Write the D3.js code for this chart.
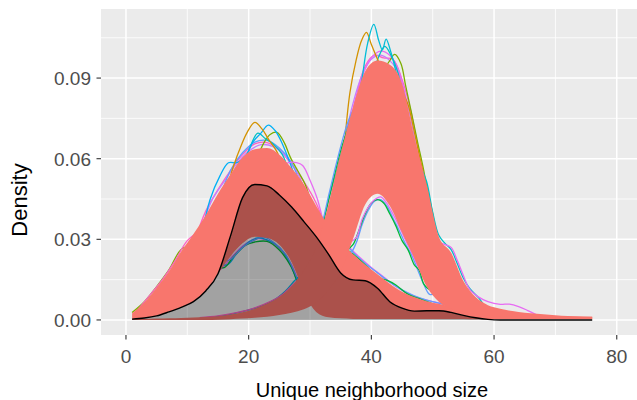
<!DOCTYPE html>
<html><head><meta charset="utf-8">
<script src="https://cdn.jsdelivr.net/npm/d3@7"></script>
<style>body{margin:0;background:#fff} svg{display:block} text{font-family:"Liberation Sans",Arial,Helvetica,sans-serif}</style>
</head><body><svg id="c" width="637" height="400"></svg>
<script>
// ---------- data ----------
const xs = [1,3,5,7,9,11,13,15,17,19,21,23,25,27,29,31,33,35,37,39,41,43,45,47,49,51,53,55,57,59,61,63,65,67,69,71,73,76];
// envelope of the simulated densities, first mode (~22)
const bandAHi = [0.0025,0.0065,0.012,0.018,0.0255,0.032,0.039,0.047,0.054,0.0605,0.0635,0.064,0.0615,0.0565,0.0505,0.0425,0.035,0.029,0.0245,0.0205,0.017,0.0135,0.0105,0.0085,0.007,0.006,0.005,0.0042,0.0036,0.003,0.0026,0.0023,0.002,0.0018,0.0016,0.0014,0.0013,0.0012];
const bandALo = [0.0003,0.0007,0.0015,0.003,0.0047,0.0068,0.0108,0.0172,0.0235,0.0285,0.031,0.0305,0.028,0.0215,0.0105,0.003,0.001,0.0006,0.0004,0.0004,0.0004,0.0004,0.0004,0.0004,0.0004,0.0004,0.0004,0.0004,0.0003,0.0003,0.0003,0.0003,0.0003,0.0003,0.0003,0.0003,0.0003,0.0003];
// envelope of the simulated densities, second mode (~41)
const bandBHi = [0.0004,0.0004,0.0005,0.0006,0.0007,0.0009,0.0011,0.0014,0.002,0.0029,0.0042,0.006,0.0085,0.0125,0.0185,0.027,0.043,0.062,0.079,0.0925,0.0965,0.095,0.088,0.068,0.0505,0.031,0.025,0.0145,0.0085,0.0055,0.0042,0.0033,0.0027,0.0023,0.0019,0.0016,0.0014,0.0012];
const bandBLo = [0,0,0,0,0,0,0,0.0001,0.0003,0.0005,0.0008,0.0012,0.0018,0.0027,0.004,0.0065,0.011,0.018,0.030,0.043,0.047,0.0425,0.0325,0.023,0.0125,0.0068,0.0042,0.003,0.0022,0.0017,0.0014,0.0012,0.001,0.0009,0.0008,0.0007,0.0006,0.0005];
// observed density (grey, black outline)
const observed = [0.0003,0.0007,0.0015,0.003,0.0047,0.0068,0.0108,0.0172,0.031,0.0455,0.0504,0.0499,0.0465,0.042,0.0366,0.031,0.0245,0.0175,0.0149,0.0146,0.0118,0.0068,0.0044,0.0033,0.0034,0.0034,0.0028,0.0017,0.0008,0.0002,0,0,0,0,0,0,0,0];

// individual replicate curves that show at the band edges ([x, density] pairs)
const aOrange = [[16,0.045],[17.5,0.057],[18.8,0.065],[19.8,0.07],[21,0.0735],[22.2,0.071],[23.3,0.067],[24.5,0.063],[26,0.055]];
const aCyan1 = [[19,0.055],[20.5,0.0655],[22,0.0695],[23.2,0.0725],[24.3,0.0705],[25.5,0.0655],[26.8,0.058],[28,0.05]];
const aCyan2 = [[18,0.052],[20,0.063],[21.5,0.0695],[22.7,0.0675],[24,0.0655],[25.5,0.0615],[26.5,0.055]];
const aGreen = [[21,0.058],[22.5,0.066],[23.5,0.069],[24.6,0.0698],[25.8,0.066],[26.8,0.0605],[28,0.0555],[29.2,0.0505],[30.5,0.041]];
const aCyanLeft = [[12.5,0.033],[13.7,0.0447],[15.3,0.0535],[16.7,0.0585],[18,0.0585],[19.2,0.0595],[20.5,0.057]];
const aMagRight = [[25,0.056],[26.5,0.0585],[27.8,0.0585],[28.8,0.0575],[30,0.052],[31.2,0.045],[32.3,0.035]];
const aPink = [[11,0.028],[13,0.0405],[15,0.0485],[17,0.0555],[19,0.0615],[21,0.0655],[23,0.066],[25,0.0632],[27,0.0578],[29,0.0515],[31,0.0435],[33,0.031]];
const aViolet = [[12,0.032],[14,0.0445],[16,0.0515],[18,0.058],[20,0.0628],[22,0.0652],[24,0.0645],[26,0.061],[28,0.0545],[30,0.043]];
const aBlueTop = [[15,0.043],[17,0.0555],[19,0.0622],[21,0.0662],[23,0.0668],[25,0.064],[27,0.0585],[29,0.046]];
const aLeftGreen = [[1,0.0028],[3,0.0068],[5,0.0124],[7,0.0186],[9,0.0262],[11,0.028]];
const aLeftPink = [[2,0.004],[4,0.0095],[6,0.0152],[8,0.022],[10,0.0295],[12,0.033]];
const aLoMag = [[14,0.0175],[15.5,0.019],[17,0.0228],[19,0.0275],[21,0.0302],[22.5,0.030],[24,0.0285],[25.5,0.0255],[27,0.0205],[28.3,0.0135],[29.5,0.009],[30.5,0.006]];
const aLoCyan = [[15,0.021],[16.5,0.0205],[18,0.0245],[20,0.029],[21.5,0.0305],[23,0.0298],[25,0.027],[26.5,0.022],[28,0.014],[29.3,0.008],[30.5,0.0065]];
const aLoGreen = [[14.5,0.02],[16,0.0195],[17.5,0.0235],[19.5,0.0278],[21,0.029],[23,0.0292],[25,0.026],[27,0.0195],[28.5,0.011],[30,0.0075]];
const aLoBlue = [[15,0.0215],[17,0.0225],[19,0.027],[21,0.0298],[22.5,0.0308],[24,0.029],[26,0.0245],[27.8,0.016],[29,0.0095],[30.5,0.0068]];
const aTailMag = [[32,0.036],[34,0.0335],[36,0.028],[38,0.0235],[40,0.0195],[42,0.016],[44,0.0125],[46,0.0098],[48,0.008],[50,0.0068],[52,0.006],[54,0.0062],[55.5,0.0058],[57,0.0045]];
const aTailBlue = [[33,0.033],[35,0.0298],[37,0.0252],[39,0.021],[41,0.0175],[43,0.014],[45,0.0112],[47,0.009],[49,0.0074],[51,0.0063],[53,0.005]];
const aTailGreen = [[35,0.028],[37,0.0245],[39,0.0205],[40.3,0.0175],[41.3,0.0155],[42.5,0.0148],[44,0.013],[46,0.0095],[48,0.0078],[50,0.006]];
const bCyan = [[37.5,0.076],[38.5,0.09],[39.4,0.103],[40.4,0.11],[41.2,0.104],[41.8,0.1005],[42.4,0.1045],[43.2,0.0995],[44,0.0925],[45,0.083]];
const bOrange = [[35.5,0.062],[36.5,0.0845],[37.5,0.0965],[38.4,0.104],[39.2,0.107],[40,0.1025],[41,0.097],[42,0.092]];
const bTeal = [[40.5,0.093],[41.3,0.0985],[42.2,0.1018],[43.2,0.0985],[44.2,0.093],[45,0.085]];
const bGreen = [[42,0.093],[43,0.0965],[43.8,0.0988],[44.8,0.0955],[45.6,0.087],[46.5,0.0775],[47.5,0.0665],[48.5,0.056],[49.5,0.043]];
const bPink = [[36,0.068],[37.5,0.083],[39,0.0945],[40.5,0.0985],[42,0.0975],[43.5,0.097],[45,0.0895],[46.5,0.077],[48,0.058]];
const bViolet = [[35,0.06],[37,0.0805],[38.5,0.0912],[40,0.097],[41.5,0.0985],[43,0.0965],[44.5,0.0915],[46,0.079],[47.5,0.062]];
const bMagTop = [[37,0.075],[38.5,0.0905],[40,0.0975],[41.5,0.1],[43,0.0985],[44.5,0.0925],[46,0.075]];
const bLeftTeal = [[29.5,0.018],[31,0.0275],[32.3,0.038],[33.4,0.0478],[34.5,0.057],[35.5,0.066],[36.5,0.074],[37.5,0.08]];
const bLeftGreen = [[27.5,0.012],[29,0.0195],[30.5,0.0255],[32,0.035],[33,0.0445],[34,0.054],[35,0.063],[36,0.07]];
const bLeftBlue = [[30,0.02],[32,0.036],[33,0.046],[34,0.0555],[35,0.0645],[36,0.0725],[37,0.078]];
const bRightOrange = [[45,0.085],[46,0.08],[47,0.07],[48,0.0595],[49,0.05],[50,0.0395],[50.8,0.029]];
const bRightTeal = [[48,0.057],[49,0.0515],[50,0.04],[51,0.0315],[52,0.0285],[53,0.0262],[54,0.021],[55,0.0155],[56,0.0118],[57.5,0.0082],[58.5,0.005]];
const bRightMag = [[51,0.029],[52,0.028],[53,0.027],[54,0.0222],[55,0.0165],[56,0.0115],[57.5,0.0085],[59,0.0068],[61,0.0058],[62.5,0.0059],[64,0.005],[65.5,0.0035],[67,0.0018]];
const bLoBlue = [[35.5,0.024],[36.5,0.0245],[37.5,0.0285],[38.5,0.0355],[39.5,0.0408],[40.5,0.0442],[41.5,0.0448],[42.5,0.0425],[43.5,0.038],[44.5,0.0335],[45.5,0.0285],[46.5,0.0245],[47.5,0.019],[48.5,0.0135],[49.5,0.0095],[50.5,0.01]];
const bLoGreen = [[36,0.026],[37,0.028],[38,0.0335],[39,0.0395],[40,0.0435],[41,0.0448],[42,0.0435],[43,0.0395],[44,0.035],[45,0.0295],[46,0.026],[47,0.0205],[47.8,0.0185],[48.5,0.0135],[49.3,0.0115],[50.3,0.011]];
const bLoMag = [[36.5,0.029],[37.5,0.0305],[38.5,0.0375],[39.5,0.042],[40.5,0.0447],[41.5,0.0458],[42.5,0.0435],[43.5,0.0395],[44.5,0.035],[45.5,0.03],[46.5,0.0255],[47.5,0.0205],[48.3,0.017],[49,0.0135],[50,0.0115]];
const bTailBlue = [[13,0.0008],[16,0.0016],[19,0.0031],[21.5,0.0047],[24,0.0072],[26,0.0108],[28,0.0158],[29.5,0.018]];
const bTailMag = [[12,0.0009],[15,0.0015],[18,0.0027],[21,0.0045],[23.5,0.0068],[25.5,0.0095],[27.5,0.0138],[29,0.017]];

const xTicks = [0,20,40,60,80];
const xTickLabels = ["0","20","40","60","80"];
const yTicks = [0,0.03,0.06,0.09];
const yTickLabels = ["0.00","0.03","0.06","0.09"];
const xMinor = [10,30,50,70];
const yMinor = [0.015,0.045,0.075,0.105];

// ---------- drawing ----------
const svg = d3.select("#c");
const P = {l:101, r:637, t:9, b:335};
const x = d3.scaleLinear().domain([-4.07, 83.3]).range([P.l, P.r]);
const y = d3.scaleLinear().domain([-0.0056, 0.1157]).range([P.b, P.t]);

svg.append("rect").attr("x",P.l).attr("y",P.t).attr("width",P.r-P.l).attr("height",P.b-P.t).attr("fill","#EBEBEB");
const grid = svg.append("g");
xMinor.forEach(v=>grid.append("line").attr("x1",x(v)).attr("x2",x(v)).attr("y1",P.t).attr("y2",P.b).attr("stroke","#fff").attr("stroke-width",0.8));
yMinor.forEach(v=>grid.append("line").attr("y1",y(v)).attr("y2",y(v)).attr("x1",P.l).attr("x2",P.r).attr("stroke","#fff").attr("stroke-width",0.8));
xTicks.forEach(v=>grid.append("line").attr("x1",x(v)).attr("x2",x(v)).attr("y1",P.t).attr("y2",P.b).attr("stroke","#fff").attr("stroke-width",1.5));
yTicks.forEach(v=>grid.append("line").attr("y1",y(v)).attr("y2",y(v)).attr("x1",P.l).attr("x2",P.r).attr("stroke","#fff").attr("stroke-width",1.5));

svg.append("clipPath").attr("id","clip").append("rect").attr("x",P.l).attr("y",P.t).attr("width",P.r-P.l).attr("height",P.b-P.t);
const plot = svg.append("g").attr("clip-path","url(#clip)");

// replicate curves first (their inner parts are covered by the filled envelopes)
const line = d3.line().x(d=>x(d[0])).y(d=>y(d[1])).curve(d3.curveCatmullRom.alpha(0.5));
const reps = [
  [aPink,"#FF61C3"],[aViolet,"#C77CFF"],[aBlueTop,"#619CFF"],[aLeftGreen,"#7CAE00"],[aLeftPink,"#FF61C3"],[aCyanLeft,"#00B0F6"],[aGreen,"#7CAE00"],[aCyan2,"#00BFC4"],[aCyan1,"#00B0F6"],[aOrange,"#D39200"],[aMagRight,"#E76BF3"],
  [aLoMag,"#E76BF3"],[aLoCyan,"#00B0F6"],[aLoGreen,"#00BA38"],[aLoBlue,"#619CFF"],
  [aTailMag,"#E76BF3"],[aTailBlue,"#619CFF"],[aTailGreen,"#00BA38"],
  [bPink,"#FF61C3"],[bViolet,"#C77CFF"],[bMagTop,"#E76BF3"],[bGreen,"#7CAE00"],[bTeal,"#00BFC4"],[bOrange,"#D39200"],[bCyan,"#00BCD8"],
  [bLeftTeal,"#00BFC4"],[bLeftGreen,"#00BA38"],[bLeftBlue,"#619CFF"],[bRightOrange,"#D39200"],[bRightTeal,"#00BFC4"],[bRightMag,"#E76BF3"],
  [bLoBlue,"#619CFF"],[bLoGreen,"#00BA38"],[bLoMag,"#E76BF3"],
  [bTailBlue,"#00B9E3"],[bTailMag,"#FF61C3"]
];
reps.forEach(([pts,c])=>plot.append("path").attr("d",line(pts)).attr("fill","none").attr("stroke",c).attr("stroke-width",1.3));

const band = (lo,hi)=>d3.area().x((d,i)=>x(xs[i])).y0((d,i)=>y(lo[i])).y1((d,i)=>y(hi[i])).curve(d3.curveMonotoneX)(xs);
const salmon = "#F8766D";
plot.append("path").attr("d",band(bandALo,bandAHi)).attr("fill",salmon);
plot.append("path").attr("d",band(bandBLo,bandBHi)).attr("fill",salmon);

const obsArea = d3.area().x((d,i)=>x(xs[i])).y0(y(0)).y1((d,i)=>y(observed[i])).curve(d3.curveMonotoneX)(xs);
const obsLine = d3.line().x((d,i)=>x(xs[i])).y((d,i)=>y(observed[i])).curve(d3.curveMonotoneX)(xs);
plot.append("path").attr("d",obsArea).attr("fill","rgba(0,0,0,0.31)");
plot.append("path").attr("d",obsLine).attr("fill","none").attr("stroke","#000").attr("stroke-width",1.4);

// axes
const ax = svg.append("g");
xTicks.forEach((v,i)=>{
  ax.append("line").attr("x1",x(v)).attr("x2",x(v)).attr("y1",P.b).attr("y2",P.b+4.5).attr("stroke","#333").attr("stroke-width",1.1);
  ax.append("text").attr("x",x(v)).attr("y",363).attr("text-anchor","middle").attr("font-size",19).attr("fill","#4D4D4D").text(xTickLabels[i]);
});
yTicks.forEach((v,i)=>{
  ax.append("line").attr("x1",P.l-4.5).attr("x2",P.l).attr("y1",y(v)).attr("y2",y(v)).attr("stroke","#333").attr("stroke-width",1.1);
  ax.append("text").attr("x",91).attr("y",y(v)).attr("dy","0.36em").attr("text-anchor","end").attr("font-size",19).attr("fill","#4D4D4D").text(yTickLabels[i]);
});
svg.append("text").attr("x",372).attr("y",397).attr("text-anchor","middle").attr("font-size",20).attr("fill","#000").text("Unique neighborhood size");
svg.append("text").attr("transform","translate(27,200) rotate(-90)").attr("text-anchor","middle").attr("font-size",22).attr("fill","#000").text("Density");
</script></body></html>
